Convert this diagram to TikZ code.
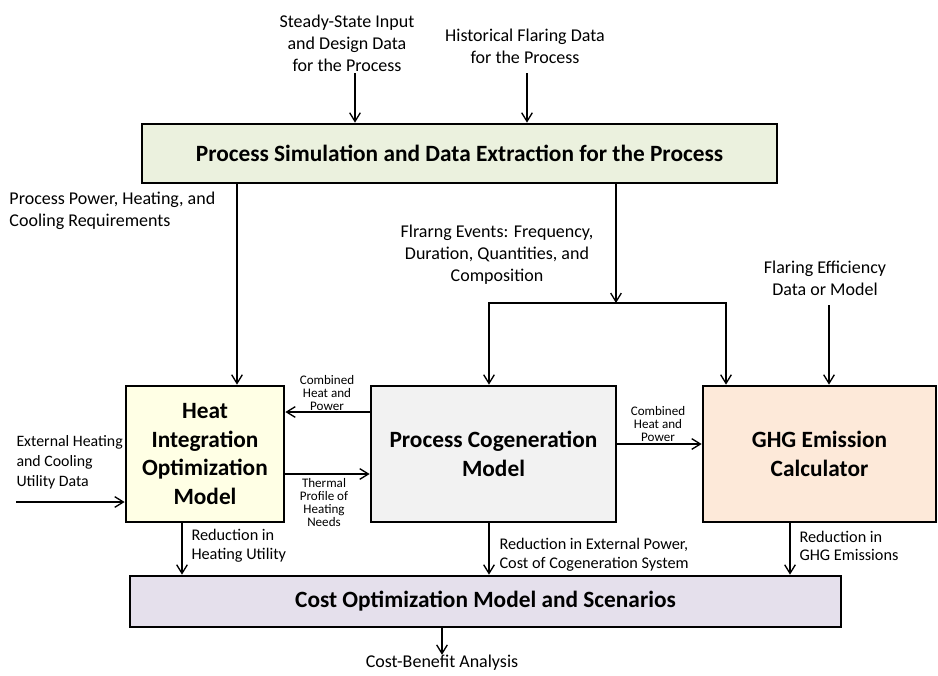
\documentclass[tikz,border=0pt]{standalone}
\usepackage{fontspec}
\setmainfont{Carlito}
\usetikzlibrary{arrows.meta}

\definecolor{simfill}{RGB}{235,241,222}
\definecolor{heatfill}{RGB}{255,255,229}
\definecolor{cogenfill}{RGB}{242,242,242}
\definecolor{ghgfill}{RGB}{253,233,217}
\definecolor{costfill}{RGB}{229,224,236}

\tikzset{every picture/.style={line width=0.75pt}}
\tikzset{
  modelbox/.style={draw, line width=2pt, align=center, inner sep=0pt, font=\bfseries\fontsize{17.5}{21.4}\selectfont},
  widebox/.style={draw, line width=2pt, align=center, inner sep=0pt, font=\bfseries\fontsize{17.5}{20}\selectfont},
  flow/.style={line width=1pt, -{Straight Barb[length=6.5pt,width=8pt,line width=1pt]}},
  inlabel/.style={inner sep=0pt, font=\fontsize{13.5}{16.5}\selectfont},
  sidelabel/.style={inner sep=0pt, align=left, anchor=west, font=\fontsize{12.2}{14}\selectfont},
  tinylabel/.style={inner sep=0pt, align=center, font=\fontsize{9.8}{9.75}\selectfont}
}

\begin{document}
\begin{tikzpicture}[x=0.75pt,y=0.75pt,yscale=-1,xscale=1]
	\useasboundingbox (0,0) rectangle (938,675);

	%Shape: Rectangle [sim]
	\node [widebox, fill=simfill, minimum width=476.25pt, minimum height=44.25pt] (sim) at (459.5,153.5) {Process Simulation and Data Extraction for the Process};
	%Shape: Rectangle [heat]
	\node [modelbox, fill=heatfill, minimum width=118.5pt, minimum height=102pt] (heat) at (205,454) {Heat\\Integration\\Optimization\\Model};
	%Shape: Rectangle [cogen]
	\node [modelbox, fill=cogenfill, minimum width=183.75pt, minimum height=102pt] (cogen) at (493.5,454) {Process Cogeneration\\Model};
	%Shape: Rectangle [ghg]
	\node [modelbox, fill=ghgfill, minimum width=174.75pt, minimum height=102pt] (ghg) at (819.5,454) {GHG Emission\\Calculator};
	%Shape: Rectangle [cost]
	\node [widebox, fill=costfill, minimum width=533.25pt, minimum height=38.25pt] (cost) at (485.5,601.5) {Cost Optimization Model and Scenarios};

	% Text Node
	\node [inlabel, align=center] (steady) at (347,43) {Steady-State Input\\and Design Data\\for the Process};
	% Text Node
	\node [inlabel, align=center] (hist) at (525,46) {Historical Flaring Data\\for the Process};
	% Text Node
	\node [inlabel, align=left, anchor=west] (power) at (9,211) {Process Power, Heating, and\\Cooling Requirements};
	% Text Node
	\node [inlabel, align=center] (flev) at (497,255) {Flrarng Events: Frequency,\\Duration, Quantities, and\\Composition};
	% Text Node
	\node [inlabel, align=center] (flef) at (825,278) {Flaring Efficiency\\Data or Model};
	% Text Node
	\node [inlabel, align=left, anchor=west, font=\fontsize{11.9}{15}\selectfont] (ext) at (16,462) {External Heating\\and Cooling\\Utility Data};
	% Text Node
	\node [tinylabel] (chpl) at (327,393) {Combined\\Heat and\\Power};
	% Text Node
	\node [tinylabel] (therm) at (324,503) {Thermal\\Profile of\\Heating\\Needs};
	% Text Node
	\node [tinylabel] (chpr) at (658,424) {Combined\\Heat and\\Power};
	% Text Node
	\node [sidelabel] (redheat) at (191,546) {Reduction in\\Heating Utility};
	% Text Node
	\node [sidelabel] (redcog) at (499,555) {Reduction in External Power,\\Cost of Cogeneration System};
	% Text Node
	\node [sidelabel] (redghg) at (799,546) {Reduction in\\GHG Emissions};
	% Text Node
	\node [inlabel] (cba) at (442,663) {Cost-Benefit Analysis};

	% coordinates of the free ends and branch points
	\coordinate (steady in) at (355,73);
	\coordinate (hist in) at (527,73);
	\coordinate (power x) at (237,300);
	\coordinate (fl mid) at (616,303);
	\coordinate (fl left) at (489,303);
	\coordinate (fl right) at (726,303);
	\coordinate (flef in) at (829,305);
	\coordinate (ext in) at (16,502);
	\coordinate (red heat x) at (182,550);
	\coordinate (red cog x) at (489,550);
	\coordinate (red ghg x) at (790,550);

	%Straight Lines [inputs]
	\draw [flow] (steady in) -- (steady in |- sim.north);
	\draw [flow] (hist in) -- (hist in |- sim.north);
	%Straight Lines [requirements]
	\draw [flow] (sim.south -| power x) -- (heat.north -| power x);
	%Straight Lines [flaring events]
	\draw [flow] (sim.south -| fl mid) -- (fl mid);
	\draw [flow] (fl right) -- (fl left) -- (fl left |- cogen.north);
	\draw [flow] (fl left) -- (fl right) -- (fl right |- ghg.north);
	\draw [flow] (flef in) -- (flef in |- ghg.north);
	%Straight Lines [between models]
	\draw [flow] ([yshift=-31.5pt]cogen.west) -- ([yshift=-31.5pt]cogen.west -| heat.east);
	\draw [flow] ([yshift=15pt]heat.east) -- ([yshift=15pt]heat.east -| cogen.west);
	\draw [flow] ([yshift=-7.5pt]cogen.east) -- ([yshift=-7.5pt]cogen.east -| ghg.west);
	\draw [flow] (ext in) -- (ext in -| heat.west);
	%Straight Lines [reductions]
	\draw [flow] (heat.south -| red heat x) -- (cost.north -| red heat x);
	\draw [flow] (cogen.south -| red cog x) -- (cost.north -| red cog x);
	\draw [flow] (ghg.south -| red ghg x) -- (cost.north -| red ghg x);
	\draw [flow] (cost.south -| cba) -- (cba.north);

\end{tikzpicture}
\end{document}
